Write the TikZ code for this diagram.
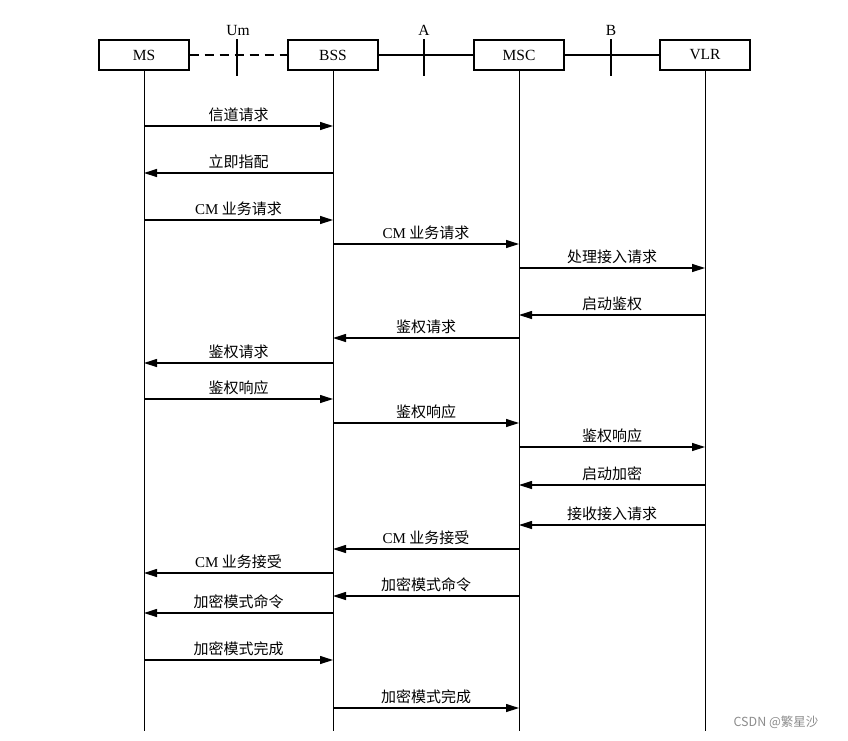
\documentclass[tikz,border=0pt]{standalone}
\usepackage{fontspec}
\setmainfont{Liberation Serif}
\newfontfamily\cjk{Noto Sans CJK SC}
\usetikzlibrary{arrows.meta}
\begin{document}
\begin{tikzpicture}[x=1pt,y=-1pt,
  ent/.style={draw,line width=1.4pt,minimum width=90pt,minimum height=30pt,inner sep=0pt,font=\fontsize{15.5}{16}\selectfont},
  life/.style={line width=0.85pt},
  link/.style={line width=1.4pt},
  tick/.style={line width=1.3pt},
  msg/.style={line width=1.2pt,-{Triangle[length=13pt,width=8pt]}},
  lbl/.style={font=\cjk\fontsize{15}{15}\selectfont,inner sep=1pt,above=2.5pt},
  iflbl/.style={font=\fontsize{15.5}{16}\selectfont,inner sep=0pt}
]
\useasboundingbox (0,0) rectangle (848,740);
\node[ent] (ms)  at (144,55) {MS};
\node[ent] (bss) at (333,55) {BSS};
\node[ent] (msc) at (519,55) {MSC};
\node[ent] (vlr) at (705,55) {VLR};
\draw[link,dash pattern=on 9pt off 6pt] (ms.east) -- (bss.west);
\draw[link] (bss.east) -- (msc.west);
\draw[link] (msc.east) -- (vlr.west);
% interface ticks
\coordinate (um1) at (237,39); \coordinate (um2) at (237,76);
\coordinate (a1) at (424,39); \coordinate (a2) at (424,76);
\coordinate (b1) at (611,39); \coordinate (b2) at (611,76);
\draw[tick] (um1) -- (um2); \draw[tick] (a1) -- (a2); \draw[tick] (b1) -- (b2);
\node[iflbl] (uml) at (238,30) {Um};
\node[iflbl] (al) at (424,30) {A};
\node[iflbl] (bl) at (611,30) {B};
% lifelines
\coordinate (msE) at (ms.south |- 0,731);
\coordinate (bssE) at (bss.south |- 0,731);
\coordinate (mscE) at (msc.south |- 0,731);
\coordinate (vlrE) at (vlr.south |- 0,731);
\draw[life] (ms.south) -- (msE);
\draw[life] (bss.south) -- (bssE);
\draw[life] (msc.south) -- (mscE);
\draw[life] (vlr.south) -- (vlrE);
% messages
\newcommand\mymsg[4]{\draw[msg] (#1.south |- 0,#3) -- node[lbl] {#4} (#2.south |- 0,#3);}
\mymsg{ms}{bss}{126}{信道请求}
\mymsg{bss}{ms}{173}{立即指配}
\mymsg{ms}{bss}{220}{{\rmfamily CM} 业务请求}
\mymsg{bss}{msc}{244}{{\rmfamily CM} 业务请求}
\mymsg{msc}{vlr}{268}{处理接入请求}
\mymsg{vlr}{msc}{315}{启动鉴权}
\mymsg{msc}{bss}{338}{鉴权请求}
\mymsg{bss}{ms}{363}{鉴权请求}
\mymsg{ms}{bss}{399}{鉴权响应}
\mymsg{bss}{msc}{423}{鉴权响应}
\mymsg{msc}{vlr}{447}{鉴权响应}
\mymsg{vlr}{msc}{485}{启动加密}
\mymsg{vlr}{msc}{525}{接收接入请求}
\mymsg{msc}{bss}{549}{{\rmfamily CM} 业务接受}
\mymsg{bss}{ms}{573}{{\rmfamily CM} 业务接受}
\mymsg{msc}{bss}{596}{加密模式命令}
\mymsg{bss}{ms}{613}{加密模式命令}
\mymsg{ms}{bss}{660}{加密模式完成}
\mymsg{bss}{msc}{708}{加密模式完成}
\node[font=\cjk\fontsize{12.5}{13}\selectfont,text=black!45] (wm) at (776,722) {CSDN @繁星沙};
\end{tikzpicture}
\end{document}
